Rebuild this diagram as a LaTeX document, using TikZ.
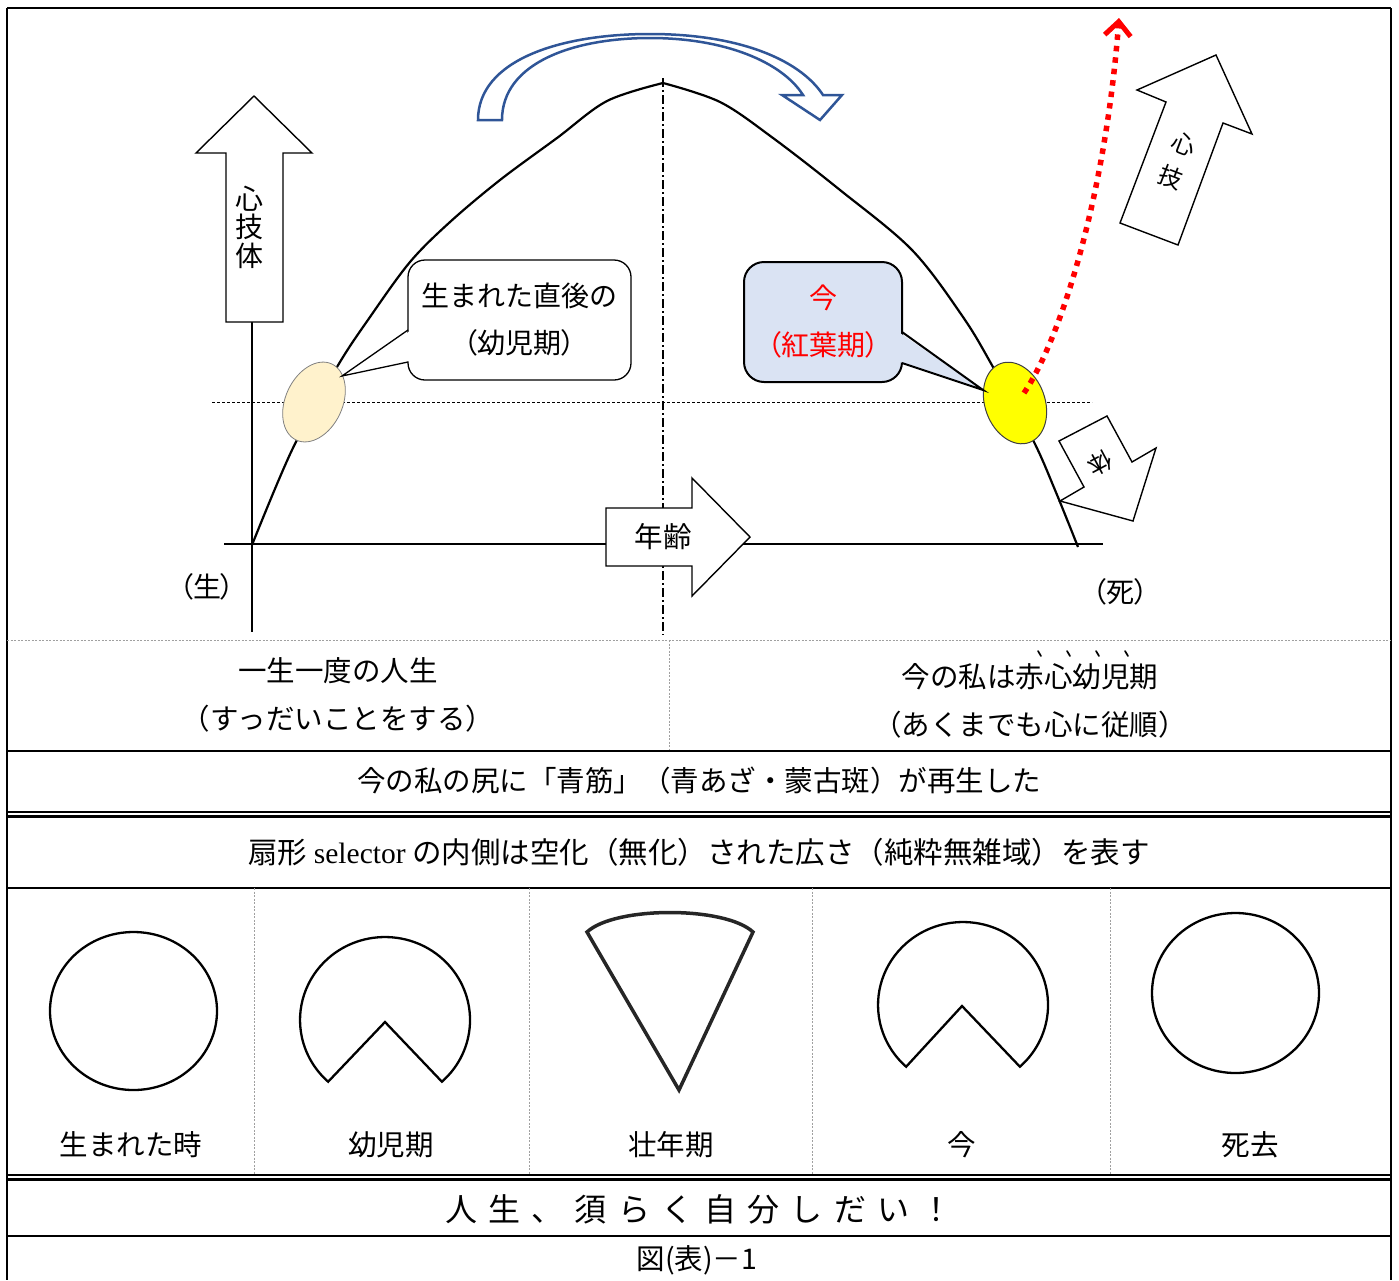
\documentclass[tikz,border=0pt]{standalone}
\usepackage{fontspec}
\setmainfont{Liberation Serif}
\newfontfamily\jp{Noto Sans CJK JP}
\newfontfamily\jpp[RawFeature=+palt]{Noto Sans CJK JP}
\newfontfamily\jpwide[LetterSpace=35]{Noto Sans CJK JP}
\usetikzlibrary{shapes.geometric,arrows.meta}
\definecolor{arrowblue}{HTML}{2F5597}
\definecolor{calloutblue}{HTML}{DAE3F3}
\definecolor{beige}{HTML}{FFF2CC}
\definecolor{sepgray}{HTML}{A0A0A0}
\definecolor{yel}{HTML}{FFFF00}
\begin{document}
\begin{tikzpicture}[x=1pt,y=-1pt,
  txt/.style={font=\jp\fontsize{28.5}{34}\selectfont, inner sep=0pt},
  rule/.style={line width=1.5pt},
  sep/.style={draw=sepgray, line width=0.8pt, dash pattern=on 2pt off 1.5pt},
  blockarrow/.style={draw, line width=1.4pt, fill=white, line join=miter},
  curveline/.style={line width=2.2pt, line join=round},
  pieshape/.style={draw, line width=2.3pt, line join=miter},
  boutendot/.style={line width=1.7pt, line cap=round},
]
\useasboundingbox (0,0) rectangle (1399,1280);

% ================= graph =================
\coordinate (vaxtop) at (252,322);
\coordinate (vaxbot) at (252,632);
\coordinate (haxl) at (224,544);
\coordinate (haxr) at (1103,544);
\draw[line width=1.3pt] (vaxtop) -- (vaxbot);
\draw[line width=1.3pt] (haxl) -- (haxr);
\coordinate (midtop) at (663,78);
\coordinate (midbot) at (663,635);
\draw[line width=1.2pt, dash pattern=on 9pt off 3pt on 2pt off 3pt] (midtop) -- (midbot);
\coordinate (dotl) at (212,402);
\coordinate (dotr) at (1092,402);
\draw[line width=0.9pt, dash pattern=on 3pt off 2pt] (dotl) -- (dotr);

% life curve
\draw[curveline] plot[smooth, tension=0.55] coordinates {(252,545) (292,450) (337,367) (370,317) (410,262) (450,222) (500,180) (557,138) (607,101) (663,83)};
\draw[curveline] plot[smooth, tension=0.55] coordinates {(663,83) (720,102) (773,138) (840,190) (912,250) (963,317) (993,367) (1033,440) (1055,490) (1078,547)};

% ellipses
\node[ellipse, draw=gray, line width=0.8pt, fill=beige, minimum width=57pt, minimum height=84pt, inner sep=0pt, rotate=-25] (young) at (314,402) {};
\node[ellipse, draw=black!75, line width=1pt, fill=yel, minimum width=60pt, minimum height=84pt, inner sep=0pt, rotate=20] (now) at (1015,403) {};

% up arrow 心技体
\draw[blockarrow] (226,322) -- (226,153) -- (196,153) -- (254,96) -- (312,153) -- (283,153) -- (283,322) -- cycle;
\node[txt, align=center, font=\jp\fontsize{28}{28.5}\selectfont] (skb) at (249,227) {心\\技\\体};

% age arrow
\draw[blockarrow] (606,508) -- (692,508) -- (692,478) -- (750,537) -- (692,596) -- (692,566) -- (606,566) -- cycle;
\node[txt] (age) at (663,537) {年齢};

% blue curved arrow
\draw[arrowblue, line width=2.5pt, fill=white, line join=miter] (478,120) .. controls (478,60) and (560,34) .. (650,34) .. controls (740,34) and (800,60) .. (823,95) -- (842,95) -- (820,120) -- (782,95) -- (803,95) .. controls (782,62) and (725,38) .. (650,38) .. controls (575,38) and (502,62) .. (502,120) -- cycle;

% tilted arrow 心技
\draw[blockarrow] (1120,223) -- (1166,102) -- (1137,90) -- (1216,55) -- (1252,134) -- (1223,123) -- (1178,245) -- cycle;
\node[txt, font=\jp\fontsize{24}{24}\selectfont, rotate=-21] (sg1) at (1184,144) {心};
\node[txt, font=\jp\fontsize{24}{24}\selectfont, rotate=-21] (sg2) at (1171,177) {技};

% tilted arrow 体
\draw[blockarrow] (1059,441) -- (1107,416) -- (1132,462) -- (1156,448) -- (1133,521) -- (1060,501) -- (1084,487) -- cycle;
\node[txt, font=\jp\fontsize{24}{24}\selectfont, rotate=208] (tai) at (1100,463) {体};

% callout 1
\node[draw, line width=1.3pt, rounded corners=17pt, fill=white, minimum width=223pt, minimum height=120pt, inner sep=0pt, align=center, font=\jp\fontsize{28}{47}\selectfont] (c1) at (519.5,320) {生まれた直後の\\{\jpp （幼児期）}};
\coordinate (c1a) at (408,330);
\coordinate (c1b) at (408,362);
\coordinate (c1tip) at (342,376);
\fill[white] (410,331) -- (c1tip) -- (410,361) -- cycle;
\draw[line width=1.3pt, line join=miter] (c1a) -- (c1tip) -- (c1b);

% callout 2
\node[draw, line width=2pt, rounded corners=20pt, fill=calloutblue, minimum width=158pt, minimum height=120pt, inner sep=0pt, align=center, text=red, font=\jp\fontsize{28}{47}\selectfont] (c2) at (823,322) {今\\{\jpp （紅葉期）}};
\coordinate (c2a) at (902,332);
\coordinate (c2b) at (902,363);
\coordinate (c2tip) at (983,390);
\fill[calloutblue] (900,333) -- (c2tip) -- (900,362) -- cycle;
\draw[line width=2pt, line join=miter] (c2a) -- (c2tip) -- (c2b);

% red dotted arrow
\coordinate (rs) at (1024,393);
\coordinate (re) at (1119,18);
\draw[red, line width=5.5pt, dash pattern=on 5.5pt off 6pt, -{Straight Barb[length=14pt, width=26pt, line width=5pt]}] (rs) .. controls (1060,340) and (1105,200) .. (re);

% birth / death labels
\node[txt, font=\jpp\fontsize{28}{34}\selectfont] (birth) at (207,587) {（生）};
\node[txt, font=\jpp\fontsize{28}{34}\selectfont] (death) at (1120,592) {（死）};

% ================= table =================
\draw[rule] (7,8) -- (1391,8);
\draw[rule] (7,8) -- (7,1280);
\draw[rule] (1391,8) -- (1391,1280);
\draw[sep] (7,640) -- (1391,640);
\draw[sep] (669,640) -- (669,751);
\draw[rule] (7,751) -- (1391,751);
\draw[line width=1.5pt] (7,812) -- (1391,812);
\draw[line width=3pt] (7,816.5) -- (1391,816.5);
\draw[rule] (7,888) -- (1391,888);
\draw[sep] (254,888) -- (254,1176);
\draw[sep] (529,888) -- (529,1176);
\draw[sep] (812,888) -- (812,1176);
\draw[sep] (1110,888) -- (1110,1176);
\draw[line width=1.5pt] (7,1175) -- (1391,1175);
\draw[line width=3.2pt] (7,1179.5) -- (1391,1179.5);
\draw[rule] (7,1236) -- (1391,1236);

\node[txt] (t1a) at (338,671) {一生一度の人生};
\node[txt] (t1b) at (338,719) {（すっだいことをする）};
\node[txt] (t2a) at (1030,677) {今の私は赤心幼児期};
\foreach \bx in {1038,1067,1096,1125}
  \draw[boutendot] (\bx,651) -- (\bx+3,656);
\node[txt] (t2b) at (1030,725) {（あくまでも心に従順）};
\node[txt] (t3) at (699,781) {今の私の尻に「青筋」（青あざ・蒙古斑）が再生した};
\node[txt, font=\jp\fontsize{29.5}{34}\selectfont] (t4) at (699,852) {扇形 {\rmfamily selector} の内側は空化（無化）された広さ（純粋無雑域）を表す};

% shapes row
\draw[pieshape] (133.5,1011) ellipse [x radius=83.5, y radius=79];
\draw[pieshape] (385,1022) -- (441.9,1081.7) arc[start angle=48, end angle=-228, x radius=85, y radius=83] -- cycle;
\draw[pieshape, draw=black!85, line width=3.5pt] (679,1090) -- (587,932) .. controls (615,906) and (725,906) .. (753,932) -- cycle;
\draw[pieshape] (962,1006) -- (1019.9,1066.7) arc[start angle=48, end angle=-228, x radius=85, y radius=83] -- cycle;
\draw[pieshape] (1235.5,993) ellipse [x radius=83.5, y radius=80];

\node[txt] (l1) at (131,1145) {生まれた時};
\node[txt] (l2) at (391,1145) {幼児期};
\node[txt] (l3) at (671,1145) {壮年期};
\node[txt] (l4) at (962,1145) {今};
\node[txt] (l5) at (1250,1145) {死去};

\node[txt, font=\jpwide\fontsize{32}{36}\selectfont] (motto) at (699,1209) {人生、須らく自分しだい！};
\node[txt] (cap) at (697,1260) {図(表)－1};
\end{tikzpicture}
\end{document}
